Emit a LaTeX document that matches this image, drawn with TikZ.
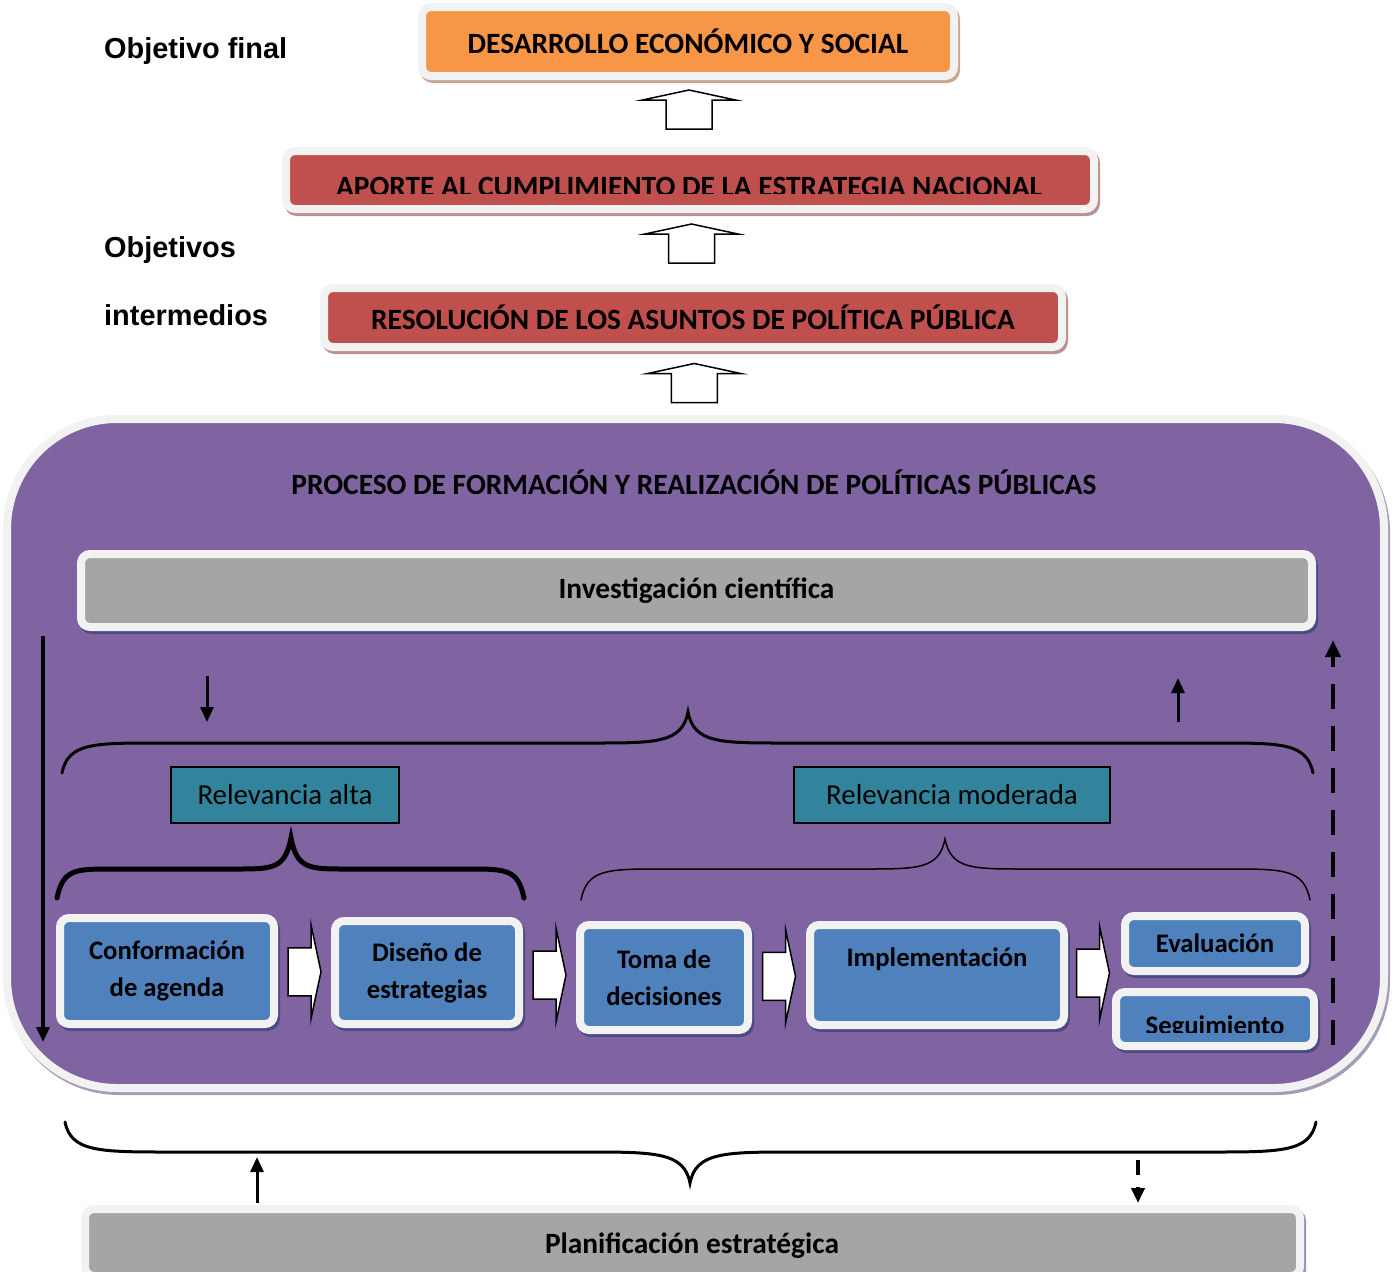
\documentclass[tikz,border=0pt]{standalone}
\usepackage{fontspec}
\setmainfont{Carlito}
\newfontfamily\arialfont{Liberation Sans}
\usetikzlibrary{arrows.meta,shadows,calc}

\definecolor{naranja}{HTML}{F79646}
\definecolor{rojo}{HTML}{C0504D}
\definecolor{morado}{HTML}{8064A2}
\definecolor{azul}{HTML}{4F81BD}
\definecolor{gris}{HTML}{A5A5A5}
\definecolor{verdeazul}{HTML}{31849B}
\definecolor{marco}{HTML}{F2F2F2}
\definecolor{sombranaranja}{HTML}{C9A893}
\definecolor{sombrarojo}{HTML}{BC9090}
\definecolor{sombramorado}{HTML}{A59DB6}
\definecolor{sombraazul}{HTML}{4B4A84}
\definecolor{sombragris}{HTML}{8F96AA}

% llave: estilo, x inicio, x punta, x fin, y extremos, y tramo, y punta, curva
\newcommand{\llave}[8]{%
  \draw[#1] (#2,#5) .. controls (#2+6,#6) and (#2+#8/3,#6) .. (#2+#8,#6)
    -- (#3-#8,#6) .. controls (#3-#8/3,#6) and (#3-6,#6) .. (#3,#7)
    .. controls (#3+6,#6) and (#3+#8/3,#6) .. (#3+#8,#6)
    -- (#4-#8,#6) .. controls (#4-#8/3,#6) and (#4-6,#6) .. (#4,#5);}

\tikzset{
  bloque/.style={draw=black, fill=white, line width=1.5pt, line join=miter},
  flechaarriba/.pic={\draw[bloque] (-23,19.5) -- (-23,-9.5) -- (-46.5,-9.5) -- (0,-19.5)
    -- (46.5,-9.5) -- (23,-9.5) -- (23,19.5) -- cycle;},
  flechader/.pic={\draw[bloque] (-16.5,-24) -- (6.5,-24) -- (6.5,-47) -- (16.5,0)
    -- (6.5,47) -- (6.5,24) -- (-16.5,24) -- cycle;}
}

\begin{document}
\begin{tikzpicture}[x=1pt,y=-1pt,
  caja/.style={draw=marco, line width=8pt, rounded corners=9pt, inner sep=0pt,
    align=center, font=\bfseries\fontsize{26.7}{37}\selectfont},
  sombra/.style={drop shadow={shadow xshift=2pt, shadow yshift=-3pt,
    fill=#1, draw=#1, opacity=1}},
  texto/.style={inner sep=0pt, font=\bfseries\fontsize{26.7}{37}\selectfont},
  grande/.style={font=\bfseries\fontsize{29.4}{37}\selectfont},
  etiqueta/.style={inner sep=0pt, font=\arialfont\bfseries\fontsize{28.9}{34}\selectfont},
  relbox/.style={draw=black, line width=1.5pt, fill=verdeazul, inner sep=0pt,
    font=\fontsize{28.9}{34}\selectfont},
  flecha/.style={line width=3pt, -{Triangle[length=15pt,width=13pt]}},
  trazo/.style={line width=3pt, line cap=round},
]
\useasboundingbox (0,0) rectangle (1393,1272);

% objetivos
\node[etiqueta, anchor=west] (objfinal) at (104,51) {Objetivo final};
\node[etiqueta, anchor=west] (objint) at (104,250) {Objetivos};
\node[etiqueta, anchor=west] (objint2) at (104,315) {intermedios};

\node[caja, grande, fill=naranja, sombra=sombranaranja, minimum width=532, minimum height=69]
  (desarrollo) at (688,41.5) {DESARROLLO ECONÓMICO Y SOCIAL};
\node[caja, fill=rojo, sombra=sombrarojo, minimum width=808, minimum height=58]
  (aporte) at (690,180) {};
\begin{scope}
  \clip (290,150) rectangle (1090,193);
  \node[texto, grande, anchor=base] (aportetxt) at (689,196)
    {APORTE AL CUMPLIMIENTO DE LA ESTRATEGIA NACIONAL};
\end{scope}
\node[caja, grande, fill=rojo, sombra=sombrarojo, minimum width=738, minimum height=59]
  (resolucion) at (693,317.5) {RESOLUCIÓN DE LOS ASUNTOS DE POLÍTICA PÚBLICA};

\pic at ($(desarrollo.south)!.5!(aporte.north)+(0,-4)$) {flechaarriba};
\pic at ($(aporte.south)!.5!(resolucion.north)+(0,-5)$) {flechaarriba};

% proceso
\node[caja, rounded corners=110pt, fill=morado, sombra=sombramorado,
  minimum width=1377, minimum height=669] (proceso) at (695.5,753.5) {};
\pic at ($(resolucion.south)!.5!(proceso.north)$) {flechaarriba};
\node[texto, grande] (titulo) at (694,482)
  {PROCESO DE FORMACIÓN Y REALIZACIÓN DE POLÍTICAS PÚBLICAS};

\node[caja, grande, fill=gris, sombra=sombraazul, minimum width=1231, minimum height=73]
  (investigacion) at (696.5,590.5) {Investigación científica};

\coordinate (bajaA) at (43,636);
\coordinate (bajaB) at (43,1042);
\draw[flecha, line width=3.5pt] (bajaA) -- (bajaB);
\coordinate (subeA) at (1333,1045);
\coordinate (subeB) at (1333,640);
\draw[flecha, line width=4.5pt, dash pattern=on 25pt off 17pt,
  -{Triangle[length=17pt,width=15pt]}] (subeA) -- (subeB);

\coordinate (inA) at (207,676);
\coordinate (inB) at (207,722);
\draw[flecha] (inA) -- (inB);
\coordinate (outA) at (1178,722);
\coordinate (outB) at (1178,678);
\draw[flecha] (outA) -- (outB);

\llave{trazo}{62}{688}{1313}{773}{743}{712}{95}

\node[relbox, minimum width=228, minimum height=56] (relalta) at (285,795)
  {Relevancia alta};
\node[relbox, minimum width=316, minimum height=56] (relmod) at (952,795)
  {Relevancia moderada};

\llave{trazo, line width=5pt}{57}{291}{524}{898}{869}{838}{55}
\llave{trazo, line width=1.5pt}{581}{945}{1310}{900}{869}{839}{80}

% etapas
\node[caja, fill=azul, sombra=sombraazul, minimum width=214, minimum height=106]
  (conformacion) at (167,971) {Conformación\\de agenda};
\node[caja, fill=azul, sombra=sombraazul, minimum width=184, minimum height=103]
  (diseno) at (427,972.5) {Diseño de\\estrategias};
\node[caja, fill=azul, sombra=sombraazul, minimum width=168, minimum height=105]
  (toma) at (664,977.5) {Toma de\\decisiones};
\node[caja, fill=azul, sombra=sombraazul, minimum width=254, minimum height=100]
  (implementacion) at (937,975) {};
\node[texto] (impltxt) at (937,959) {Implementación};
\node[caja, fill=azul, sombra=sombraazul, minimum width=180, minimum height=55]
  (evaluacion) at (1215,943.5) {Evaluación};
\node[caja, fill=azul, sombra=sombraazul, minimum width=198, minimum height=54]
  (seguimiento) at (1215,1019) {};
\begin{scope}
  \clip (1120,995) rectangle (1311,1032);
  \node[texto, anchor=base] (seguimtxt) at (1215,1034) {Seguimiento};
\end{scope}

\pic at ($(conformacion.east)!.5!(diseno.west)$) {flechader};
\pic at ($(diseno.east)!.5!(toma.west)$) {flechader};
\pic at ($(toma.east)!.5!(implementacion.west)$) {flechader};
\pic at ($(implementacion.east)+(25,-2)$) {flechader};

% planificacion
\llave{trazo}{65}{690}{1316}{1122}{1152}{1183}{105}

\node[caja, fill=gris, sombra=sombragris, minimum width=1215, minimum height=67]
  (planificacion) at (692.5,1242.5) {};
\begin{scope}
  \clip (90,1212) rectangle (1296,1257);
  \node[texto, grande, anchor=base] (planiftxt) at (692,1253) {Planificación estratégica};
\end{scope}

\coordinate (planA) at (257,1203);
\coordinate (planB) at (257,1157);
\draw[flecha] (planA) -- (planB);
\coordinate (planC) at (1138,1160);
\coordinate (planD) at (1138,1203);
\draw[flecha, line width=4pt, dash pattern=on 15pt off 12pt] (planC) -- (planD);
\end{tikzpicture}
\end{document}
